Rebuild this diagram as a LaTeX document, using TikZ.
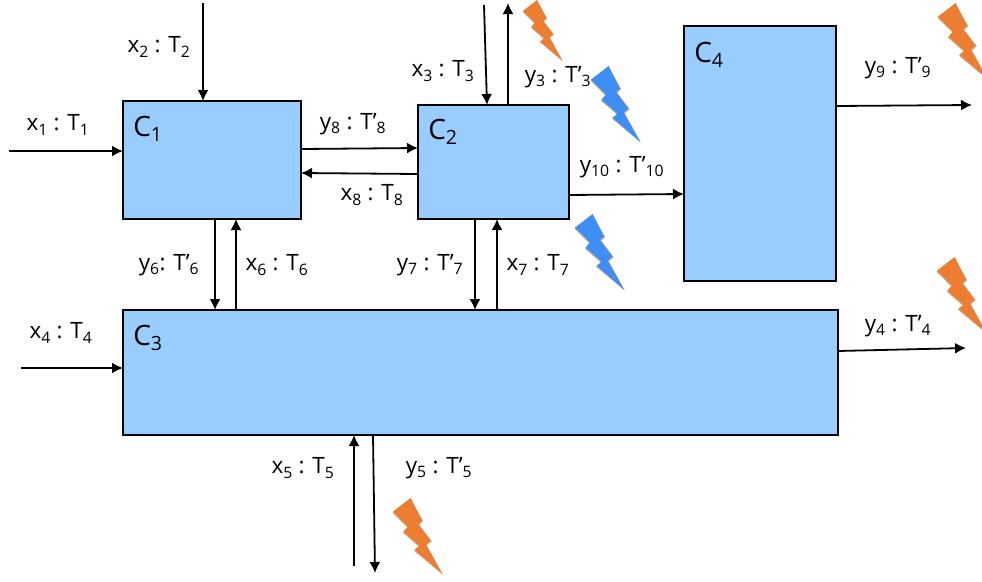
\documentclass[tikz,border=0pt]{standalone}
\usepackage{fontspec}
\setmainfont{Open Sans}
\usetikzlibrary{arrows.meta}
\definecolor{boxblue}{HTML}{99CCFF}
\definecolor{boltorange}{HTML}{ED7D31}
\definecolor{boltblue}{HTML}{3F8EF5}
\definecolor{bolttan}{HTML}{C9A98C}
\newcommand{\subt}[1]{\textsubscript{#1}}
\newcommand{\bolt}[4]{%
  \begin{scope}[shift={(#1,#2)},scale=#3]
    \fill[bolttan] (-0.4,11.8) -- (14.1,0.8) -- (24.2,18.5) -- (21,21.4) -- (31,34.5) -- (27.2,37.9)
      -- (39.8,61.2) -- (16.8,42.2) -- (20.8,39) -- (8,27.8) -- (11.5,23.5) -- cycle;
    \fill[#4] (0,10.9) -- (14.1,0) -- (23.2,18.1) -- (20,20.8) -- (29.9,34.1) -- (26.1,37.3)
      -- (39.5,60.8) -- (17.3,41.3) -- (21.3,38.1) -- (8.5,26.9) -- (12,22.6) -- cycle;
  \end{scope}}
\tikzset{
  cbox/.style={draw=black,line width=1.8pt,fill=boxblue,anchor=north west,inner sep=0pt,outer sep=0pt},
  conn/.style={line width=1.8pt,-{Latex[length=11pt,width=11pt]}},
  clabel/.style={font=\fontsize{28}{30}\selectfont,inner sep=0pt},
  flow/.style={font=\fontsize{22.5}{26}\selectfont,inner sep=0pt}
}
\begin{document}
\begin{tikzpicture}[x=1pt,y=-1pt]
  \useasboundingbox (0,0) rectangle (982,581);
  \clip (0,0) rectangle (982,581);
  \node[cbox,minimum width=178pt,minimum height=118pt] (C1) at (123,101) {};
  \node[cbox,minimum width=151pt,minimum height=114pt] (C2) at (418,105) {};
  \node[cbox,minimum width=715pt,minimum height=125pt] (C3) at (123,310) {};
  \node[cbox,minimum width=152pt,minimum height=255pt] (C4) at (684,26) {};
  \node[clabel] (C1t) at (148,129) {C\subt{1}};
  \node[clabel] (C2t) at (443,132) {C\subt{2}};
  \node[clabel] (C3t) at (148,338) {C\subt{3}};
  \node[clabel] (C4t) at (709,55) {C\subt{4}};

  \coordinate (x1s) at (9,151);
  \coordinate (x2s) at (203,3);
  \coordinate (x3s) at (484,5);
  \coordinate (y3e) at (508,3);
  \coordinate (y9e) at (972,105);
  \coordinate (x4s) at (21,368);
  \coordinate (y4e) at (966,348);
  \coordinate (x5s) at (354,566);
  \coordinate (y5e) at (375,573);

  \draw[conn] (x1s) -- (x1s -| C1.west);
  \draw[conn] (x2s) -- (x2s |- C1.north);
  \draw[conn] (x3s) -- (487,105);
  \draw[conn] (y3e |- C2.north) -- (y3e);
  \draw[conn] (C1.east |- 0,149) -- (C2.west |- 0,148);
  \draw[conn] (C2.west |- 0,174) -- (C1.east |- 0,173);
  \draw[conn] (C2.east |- 0,195) -- (C4.west |- 0,194);
  \draw[conn] (C4.east |- 0,106) -- (y9e);
  \draw[conn] (215,219) -- (215,310);
  \draw[conn] (236,310) -- (236,219);
  \draw[conn] (475,219) -- (475,310);
  \draw[conn] (497,310) -- (497,219);
  \draw[conn] (x4s) -- (x4s -| C3.west);
  \draw[conn] (C3.east |- 0,351) -- (y4e);
  \draw[conn] (x5s) -- (x5s |- C3.south);
  \draw[conn] (373,435) -- (y5e);

  \node[flow] (x1l) at (58,125) {x\subt{1} : T\subt{1}};
  \node[flow] (x2l) at (159,47) {x\subt{2} : T\subt{2}};
  \node[flow] (x3l) at (443,71) {x\subt{3} : T\subt{3}};
  \node[flow] (y3l) at (558,77) {y\subt{3} : T’\subt{3}};
  \node[flow] (y8l) at (353,124) {y\subt{8} : T’\subt{8}};
  \node[flow] (x8l) at (372,195) {x\subt{8} : T\subt{8}};
  \node[flow] (y10l) at (622,167) {y\subt{10} : T’\subt{10}};
  \node[flow] (y9l) at (898,68) {y\subt{9} : T’\subt{9}};
  \node[flow] (y6l) at (169,265) {y\subt{6}: T’\subt{6}};
  \node[flow] (x6l) at (277,265) {x\subt{6} : T\subt{6}};
  \node[flow] (y7l) at (430,265) {y\subt{7} : T’\subt{7}};
  \node[flow] (x7l) at (538,265) {x\subt{7} : T\subt{7}};
  \node[flow] (x4l) at (61,333) {x\subt{4} : T\subt{4}};
  \node[flow] (y4l) at (898,326) {y\subt{4} : T’\subt{4}};
  \node[flow] (x5l) at (303,468) {x\subt{5} : T\subt{5}};
  \node[flow] (y5l) at (439,468) {y\subt{5} : T’\subt{5}};

  \bolt{523}{0}{1}{boltorange}
  \bolt{591}{66}{1.25}{boltblue}
  \bolt{938}{3}{1.25}{boltorange}
  \bolt{575}{214}{1.25}{boltblue}
  \bolt{937}{257}{1.25}{boltorange}
  \bolt{393}{498}{1.25}{boltorange}
\end{tikzpicture}
\end{document}
